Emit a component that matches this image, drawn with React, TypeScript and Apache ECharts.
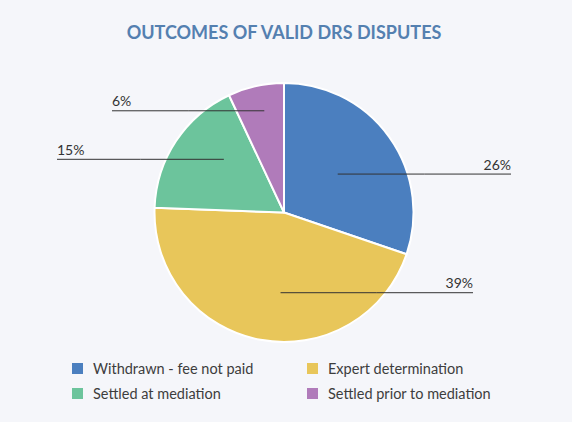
import React, { useEffect, useRef } from "react";
import * as echarts from "echarts";

const categories = [
  "Withdrawn - fee not paid",
  "Expert determination",
  "Settled at mediation",
  "Settled prior to mediation",
];
const values = [26, 39, 15, 6];
const labelTexts = ["26%", "39%", "15%", "6%"];
const legendColumnA = ["Withdrawn - fee not paid", "Settled at mediation"];
const legendColumnB = ["Expert determination", "Settled prior to mediation"];

const colors = ["#4b7fbf", "#e8c65a", "#6cc49c", "#b07bba"];

// label guide styling: where the leader starts inside the slice and how far it reaches
const labelGuides = [
  { radius: 0.51, shift: 0, reach: 227 },
  { radius: 0.62, shift: -8, reach: 189 },
  { radius: 0.62, shift: 8, reach: -227 },
  { radius: 0.8, shift: 1.6, reach: -172 },
];

const CX = 284;
const CY = 212.5;
const R = 129.5;

export default function App() {
  const ref = useRef<HTMLDivElement>(null);
  useEffect(() => {
    document.body.style.margin = "0";
    if (!ref.current) return;
    const chart = echarts.init(ref.current, undefined, { renderer: "svg" });
    const total = values.reduce((a, b) => a + b, 0);
    const mids: number[] = [];
    let acc = 0;
    values.forEach((v) => {
      mids.push(((acc + v / 2) / total) * 360);
      acc += v;
    });
    const font = "Lato, 'Open Sans', sans-serif";
    const legendBase = {
      orient: "vertical",
      top: 361,
      padding: 0,
      icon: "rect",
      itemWidth: 11,
      itemHeight: 11,
      itemGap: 10,
      itemStyle: { borderWidth: 0 },
      textStyle: {
        fontSize: 14.5,
        lineHeight: 14,
        color: "#3d3d3d",
        fontFamily: font,
        padding: [0, 0, 0, 5],
      },
    };
    chart.setOption({
      animation: false,
      backgroundColor: "#f5f6fa",
      color: colors,
      title: {
        text: "OUTCOMES OF VALID DRS DISPUTES",
        left: 284,
        textAlign: "center",
        top: 23,
        padding: 0,
        textStyle: {
          color: "#5480b0",
          fontSize: 18,
          fontWeight: "bold",
          fontFamily: font,
        },
      },
      legend: [
        { ...legendBase, data: legendColumnA, left: 72 },
        { ...legendBase, data: legendColumnB, left: 307 },
      ],
      series: [
        {
          type: "pie",
          z: 2,
          center: [CX, CY],
          radius: R,
          startAngle: 90,
          clockwise: true,
          itemStyle: { borderColor: "#ffffff", borderWidth: 2 },
          emphasis: { disabled: true },
          label: { show: false },
          labelLine: { show: false },
          data: categories.map((name, i) => ({ name, value: values[i] })),
        },
        {
          type: "pie",
          z: 5,
          silent: true,
          legendHoverLink: false,
          center: [CX, CY],
          radius: R,
          startAngle: 90,
          clockwise: true,
          avoidLabelOverlap: false,
          itemStyle: { color: "rgba(0,0,0,0)", borderWidth: 0 },
          emphasis: { disabled: true },
          data: categories.map((name, i) => ({
            name,
            value: values[i],
            label: { formatter: labelTexts[i] },
          })),
          label: {
            show: true,
            position: "outside",
            color: "#333",
            fontSize: 14,
            fontFamily: font,
          },
          labelLine: {
            show: true,
            lineStyle: { color: "#333", width: 1 },
          },
          labelLayout: (params: any) => {
            const i = params.dataIndex;
            const g = labelGuides[i];
            const ang = ((mids[i] + g.shift) * Math.PI) / 180;
            const sx = CX + g.radius * R * Math.sin(ang);
            const sy = CY - g.radius * R * Math.cos(ang);
            const ex = CX + g.reach;
            const right = g.reach > 0;
            return {
              x: ex,
              y: sy - 3,
              align: right ? "right" : "left",
              verticalAlign: "bottom",
              labelLinePoints: [
                [sx, sy],
                [(sx + ex) / 2, sy],
                [ex, sy],
              ],
            };
          },
        },
      ],
    });
    return () => chart.dispose();
  }, []);
  return <div ref={ref} style={{ width: 572, height: 422 }} />;
}
